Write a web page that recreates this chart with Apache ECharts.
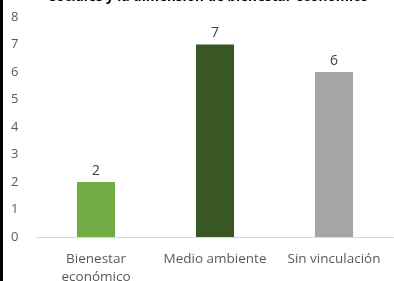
<!DOCTYPE html>
<html>
<head>
<meta charset="utf-8">
<script src="https://cdn.jsdelivr.net/npm/echarts@6/dist/echarts.min.js"></script>
<style>
  html, body { margin: 0; padding: 0; background: #fff; }
  #chart { width: 394px; height: 281px; }
</style>
</head>
<body>
<div id="chart"></div>
<script>
var categories = ['Bienestar\neconómico', 'Medio ambiente', 'Sin vinculación'];
var values = [2, 7, 6];
var barColors = ['#70AD47', '#385723', '#A5A5A5'];
var yTicks = [0, 1, 2, 3, 4, 5, 6, 7, 8];
var titleText = 'sociales y la dimensión de bienestar económico';

var chart = echarts.init(document.getElementById('chart'));
var font = 'Open Sans, Liberation Sans, sans-serif';

chart.setOption({
  animation: false,
  title: {
    text: titleText,
    left: 204,
    textAlign: 'center',
    top: -15,
    textStyle: { fontFamily: font, fontSize: 13.5, fontWeight: 'bold', color: '#000' }
  },
  graphic: [{
    type: 'rect',
    shape: { x: 0, y: 0, width: 3, height: 281 },
    style: { fill: '#000' }
  }],
  grid: { left: 36.5, right: 0.5, top: 17, bottom: 44, outerBoundsMode: 'none', containLabel: false },
  xAxis: {
    type: 'category',
    data: categories,
    axisLine: { lineStyle: { color: '#D9D9D9', width: 1 } },
    axisTick: { show: false },
    axisLabel: {
      fontFamily: font, fontSize: 13.5, color: '#595959',
      margin: 13, lineHeight: 18, interval: 0
    }
  },
  yAxis: {
    type: 'value',
    min: yTicks[0],
    max: yTicks[yTicks.length - 1],
    interval: 1,
    splitLine: { show: false },
    axisLine: { show: false },
    axisTick: { show: false },
    axisLabel: { fontFamily: font, fontSize: 13, color: '#595959', margin: 18 }
  },
  series: [{
    type: 'bar',
    barWidth: '32%',
    data: values.map(function (v, i) {
      return { value: v, itemStyle: { color: barColors[i] } };
    }),
    label: {
      show: true,
      position: 'top',
      distance: 4,
      fontFamily: font,
      fontSize: 14,
      color: '#404040'
    }
  }]
});
</script>
</body>
</html>
